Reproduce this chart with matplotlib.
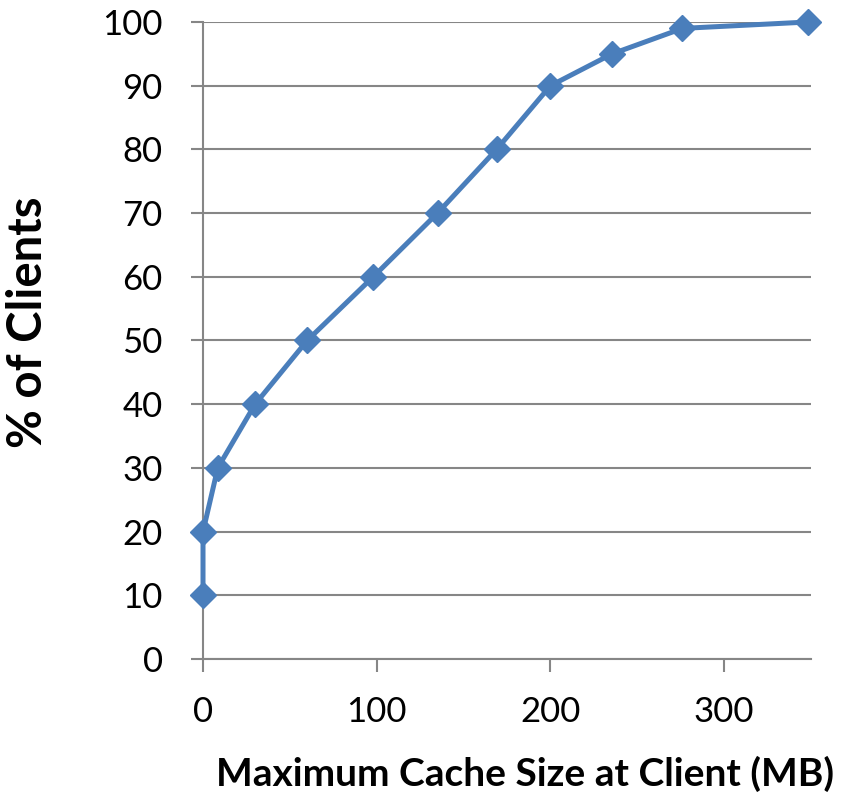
import matplotlib.pyplot as plt

# cache size (MB) needed by each percentile of clients
cache_mb = [0, 0, 8.5, 30, 60, 98, 135, 169, 200, 235.5, 276, 348]
pct_clients = [10, 20, 30, 40, 50, 60, 70, 80, 90, 95, 99, 100]

plt.rcParams['font.family'] = ['Lato', 'DejaVu Sans']

fig = plt.figure(figsize=(8.42, 7.95), dpi=100)
ax = fig.add_axes([0.2411, 0.1711, 0.7221, 0.8012])

grey = '#868686'
ax.plot(cache_mb, pct_clients, color='#4a7ebb', lw=3.6, marker='D', ms=13,
        zorder=3, clip_on=False)

ax.set_xlim(0, 350)
ax.set_ylim(0, 100)
ax.set_xticks([0, 100, 200, 300])
ax.set_yticks(range(0, 101, 10))
ax.yaxis.grid(True, color=grey, lw=1.5)
ax.set_axisbelow(True)

for s in ['top', 'right']:
    ax.spines[s].set_visible(False)
for s in ['left', 'bottom']:
    ax.spines[s].set_color(grey)
    ax.spines[s].set_linewidth(1.5)

ax.tick_params(axis='both', length=9, width=1.5, color=grey, labelsize=25)
ax.tick_params(axis='y', pad=20)
ax.tick_params(axis='x', pad=18)

ax.set_xlabel('Maximum Cache Size at Client (MB)', fontsize=28, fontweight='bold')
ax.set_ylabel('% of Clients', fontsize=34, fontweight='bold')
ax.xaxis.set_label_coords(0.53, -0.152)
ax.yaxis.set_label_coords(-0.252, 0.529)

plt.savefig('out.png', dpi=100)
